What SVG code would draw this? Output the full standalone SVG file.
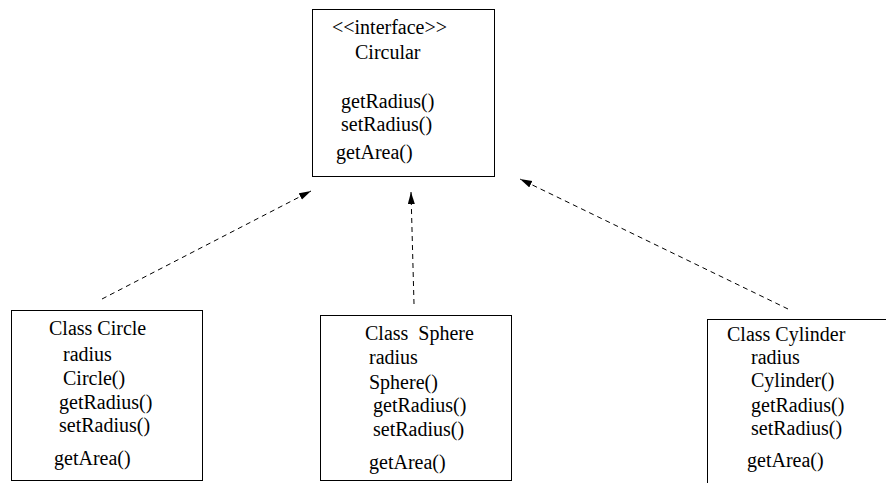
<svg xmlns="http://www.w3.org/2000/svg" width="886" height="483" viewBox="0 0 886 483">
<style>
.box{fill:#fff;stroke:#000;stroke-width:1}
text{font-family:"Liberation Serif","Times New Roman",serif;font-size:20px;fill:#000}
.dep{fill:none;stroke:#000;stroke-width:1;stroke-dasharray:5,4}
</style>
<defs>
<marker id="ah" markerUnits="userSpaceOnUse" markerWidth="13" markerHeight="8" refX="12" refY="3.5" orient="auto">
<path d="M0,0 L12,3.5 L0,7 z" fill="#000"/>
</marker>
</defs>
<rect width="886" height="483" fill="#fff"/>
<g id="circular">
<rect class="box" x="312.5" y="9.5" width="182" height="167"/>
<text x="332" y="34">&lt;&lt;interface&gt;&gt;</text>
<text x="355" y="59">Circular</text>
<text x="341" y="108">getRadius()</text>
<text x="341" y="131">setRadius()</text>
<text x="336" y="159">getArea()</text>
</g>
<g id="circle">
<rect class="box" x="11.5" y="310.5" width="191" height="170"/>
<text x="49" y="335">Class Circle</text>
<text x="63" y="361">radius</text>
<text x="63" y="385">Circle()</text>
<text x="59" y="409">getRadius()</text>
<text x="59" y="432">setRadius()</text>
<text x="54" y="465">getArea()</text>
</g>
<g id="sphere">
<rect class="box" x="320.5" y="315.5" width="191" height="165"/>
<text x="365" y="340" xml:space="preserve">Class  Sphere</text>
<text x="369" y="364">radius</text>
<text x="369" y="389">Sphere()</text>
<text x="373" y="412">getRadius()</text>
<text x="373" y="436">setRadius()</text>
<text x="369" y="469">getArea()</text>
</g>
<g id="cylinder">
<rect class="box" x="707.5" y="319.5" width="200" height="200"/>
<text x="727" y="341">Class Cylinder</text>
<text x="751" y="364">radius</text>
<text x="751" y="387">Cylinder()</text>
<text x="751" y="412">getRadius()</text>
<text x="751" y="435">setRadius()</text>
<text x="747" y="467">getArea()</text>
</g>
<g id="connectors">
<line class="dep" x1="102" y1="299" x2="311" y2="191" marker-end="url(#ah)"/>
<line class="dep" x1="414" y1="304" x2="411" y2="192" marker-end="url(#ah)"/>
<line class="dep" x1="788" y1="309" x2="520" y2="179" marker-end="url(#ah)"/>
</g>
</svg>
